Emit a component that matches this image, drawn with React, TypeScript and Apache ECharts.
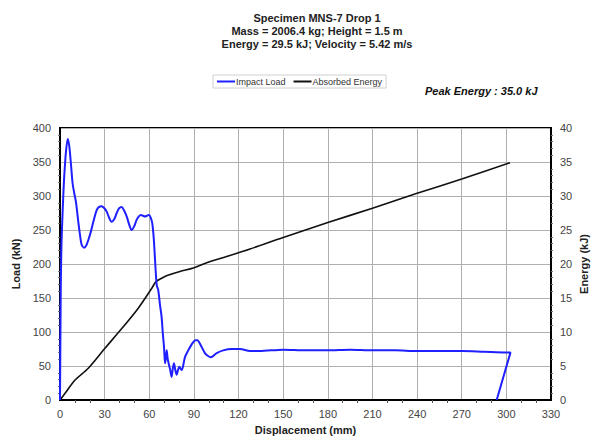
import React, { useEffect, useRef } from "react";
import * as echarts from "echarts";

const titleLines = [
  "Specimen MNS-7 Drop 1",
  "Mass = 2006.4 kg; Height = 1.5 m",
  "Energy = 29.5 kJ; Velocity = 5.42 m/s",
];
const peakLabel = "Peak Energy : 35.0 kJ";

const xTicks = [0, 30, 60, 90, 120, 150, 180, 210, 240, 270, 300, 330];

const loadDisp = [
  0, 0.3, 0.6, 1.0, 1.5, 2.2, 2.9, 4.0, 5.2, 6.2, 7.4, 8.5, 9.6, 10.8, 12.3, 13.5,
  14.6, 16.3, 17.8, 19.0, 20.8, 22.4, 24.6, 26.3, 28.0, 29.8, 31.4, 33.0, 34.7,
  36.5, 38.1, 39.8, 41.4, 43.0, 44.8, 46.5, 48.2, 50.0, 51.5, 53.0, 54.4, 55.8,
  57.1, 58.5, 59.8, 61.0, 62.0, 63.0, 63.8, 65.0, 66.0, 67.2, 68.3, 69.1, 69.9,
  70.6, 71.2, 71.7, 72.3, 72.8, 74.0, 75.0, 75.8, 76.6, 77.5, 78.4, 79.3, 80.2,
  81.0, 81.8, 84.0, 86.2, 88.0, 89.6, 91.0, 92.3, 93.5, 94.5, 97.4, 99.3, 101.3,
  105.3, 109.7, 115.4, 121.0, 127.7, 134.0, 150.0, 165.0, 180.0, 195.0, 210.0,
  225.0, 240.0, 255.0, 270.0, 285.0, 300.0, 302.8, 293.5,
];
const loadKN = [
  0, 100, 180, 230, 262, 300, 331, 365, 384, 374, 346, 318, 304, 290, 262, 242,
  228, 224, 228, 235, 248, 262, 279, 284, 285, 282, 277, 268, 262, 266, 275, 282,
  284, 279, 270, 258, 250, 256, 265, 270, 272, 271, 270, 271, 272, 268, 260, 238,
  209, 169, 162, 140, 122, 98, 78, 54, 62, 73, 62, 56, 45, 34, 46, 54, 44, 37,
  44, 49, 46, 44, 63, 73, 80, 85, 88, 88, 85, 81, 69, 65, 63, 69, 73, 75, 75, 72,
  72, 74, 73, 73, 74, 73, 73, 72, 72, 72, 71, 70, 70, 0,
];

const energyDisp = [0, 3.4, 10.1, 19.0, 30.2, 41.5, 52.6, 61.6, 64.5, 68.3, 72.0, 80.6, 89.6, 98.6, 112.0, 127.7, 150.0, 180.0, 210.0, 240.0, 270.0, 302.4];
const energyKJ = [0, 0.98, 2.94, 4.66, 7.6, 10.5, 13.5, 16.4, 17.4, 17.9, 18.3, 18.9, 19.4, 20.2, 21.1, 22.2, 23.9, 26.1, 28.2, 30.4, 32.5, 34.9];

const FONT = "'Liberation Sans', Arial, sans-serif";

export default function App() {
  const ref = useRef<HTMLDivElement>(null);
  useEffect(() => {
    if (!ref.current) return;
    const chart = echarts.init(ref.current, undefined, { renderer: "svg" });
    const loadData = loadDisp.map((d, i) => [d, loadKN[i]]);
    const energyData = energyDisp.map((d, i) => [d, energyKJ[i]]);
    const gridLine = { show: true, lineStyle: { color: "#b0b0b0", width: 1 } };
    const axisLabel = { color: "#444", fontSize: 11, fontFamily: FONT };
    const nameStyle = { fontSize: 11, fontWeight: "bold", color: "#222", fontFamily: FONT };
    chart.setOption({
      animation: false,
      backgroundColor: "#fff",
      textStyle: { fontFamily: FONT },
      title: {
        text: titleLines.join("\n"),
        left: 312,
        top: 6,
        textAlign: "center",
        textStyle: { fontSize: 11, fontWeight: "bold", color: "#222", lineHeight: 13, fontFamily: FONT },
      },
      legend: {
        left: 213,
        top: 75,
        padding: [2, 4],
        itemGap: 8,
        itemWidth: 18,
        itemHeight: 2,
        borderColor: "#d0d0d0",
        borderWidth: 1,
        icon: "rect",
        textStyle: { fontSize: 9, color: "#333", fontFamily: FONT, padding: [0, 0, 0, -4] },
        data: ["Impact Load", "Absorbed Energy"],
      },
      grid: {
        left: 60,
        top: 128,
        width: 491,
        height: 272,
        outerBoundsMode: "none",
        containLabel: false,
        show: true,
        borderColor: "#000",
        borderWidth: 2,
        backgroundColor: "transparent",
      },
      graphic: [
        {
          type: "text",
          left: 425,
          top: 85,
          style: {
            text: peakLabel,
            fontSize: 11,
            fontWeight: "bold",
            fontStyle: "italic",
            fill: "#111",
            fontFamily: FONT,
          },
        },
      ],
      xAxis: {
        type: "value",
        min: xTicks[0],
        max: xTicks[xTicks.length - 1],
        interval: 30,
        name: "Displacement (mm)",
        nameLocation: "middle",
        nameGap: 24,
        nameTextStyle: nameStyle,
        axisLine: { show: true, lineStyle: { color: "#000", width: 2 } },
        axisTick: { show: false },
        minorTick: { show: true, splitNumber: 3, length: 3, lineStyle: { color: "#555" } },
        axisLabel: { ...axisLabel, margin: 8 },
        splitLine: gridLine,
      },
      yAxis: [
        {
          type: "value",
          min: 0,
          max: 400,
          interval: 50,
          name: "Load (kN)",
          nameLocation: "middle",
          nameGap: 37,
          nameTextStyle: nameStyle,
          axisLine: { show: true, lineStyle: { color: "#000", width: 2 } },
          axisTick: { show: false },
          minorTick: { show: true, splitNumber: 5, length: 2, lineStyle: { color: "#777" } },
          axisLabel: { ...axisLabel, margin: 9 },
          splitLine: gridLine,
        },
        {
          type: "value",
          min: 0,
          max: 40,
          interval: 5,
          position: "right",
          name: "Energy (kJ)",
          nameLocation: "middle",
          nameGap: 27,
          nameMoveOverlap: false,
          nameRotate: 90,
          nameTextStyle: nameStyle,
          axisLine: { show: true, lineStyle: { color: "#000", width: 2 } },
          axisTick: { show: false },
          minorTick: { show: true, splitNumber: 5, length: 2, lineStyle: { color: "#777" } },
          axisLabel: { ...axisLabel, margin: 9 },
          splitLine: { show: false },
        },
      ],
      series: [
        {
          name: "Impact Load",
          type: "line",
          yAxisIndex: 0,
          data: loadData,
          showSymbol: false,
          smooth: 0.3,
          color: "#1f1fff",
          lineStyle: { color: "#1f1fff", width: 2 },
          z: 3,
        },
        {
          name: "Absorbed Energy",
          type: "line",
          yAxisIndex: 1,
          data: energyData,
          showSymbol: false,
          smooth: 0.3,
          color: "#111",
          lineStyle: { color: "#111", width: 1.6 },
          z: 2,
        },
      ],
    });
    return () => chart.dispose();
  }, []);
  return (
    <div
      ref={ref}
      style={{ position: "fixed", left: 0, top: 0, width: 593, height: 438, background: "#fff" }}
    />
  );
}
